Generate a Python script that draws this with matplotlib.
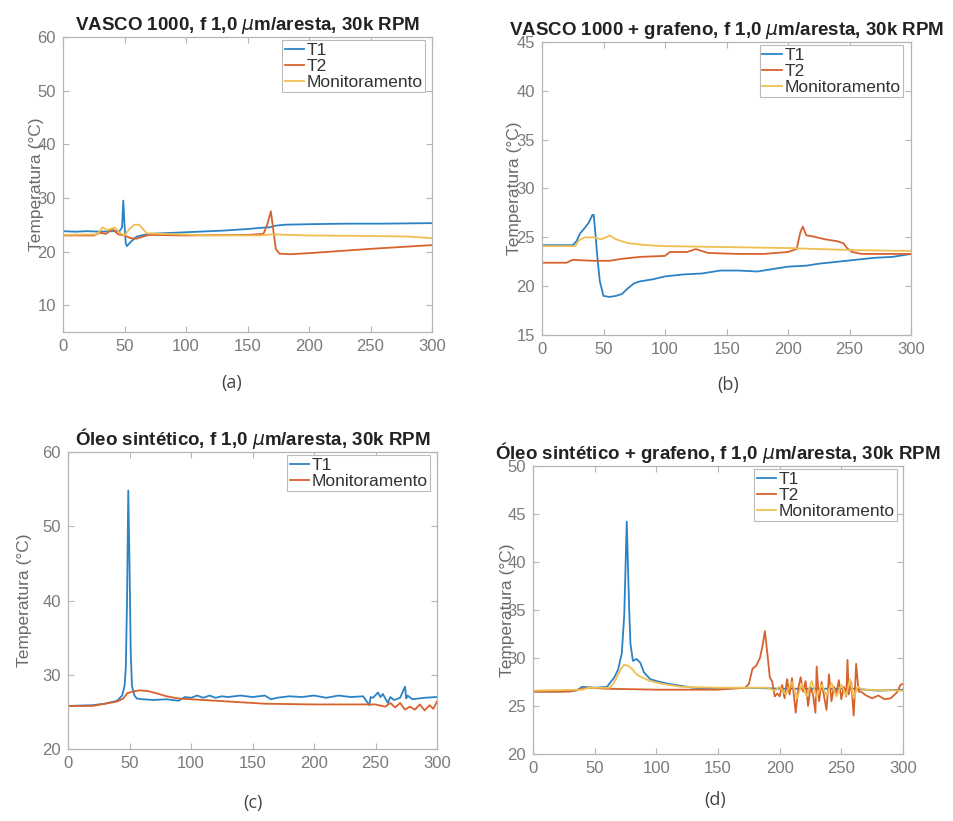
import matplotlib
matplotlib.use("Agg")
import matplotlib.pyplot as plt
import numpy as np

plt.rcParams['font.family'] = ['Liberation Sans', 'DejaVu Sans']
plt.rcParams['mathtext.fontset'] = 'dejavusans'

# colours (MATLAB default order, a bit faded like the scan)
C_T1 = '#2b83c6'
C_T2 = '#d8622e'
C_MON = '#efbf52'

# ---- panel (a): VASCO 1000 ----
a_t1 = [(0, 23.8), (10, 23.7), (20, 23.8), (30, 23.7), (40, 23.8), (46, 23.8), (48, 24.5),
        (49, 29.5), (50, 25.0), (51, 21.5), (52, 21.0), (55, 21.8), (60, 22.8), (70, 23.3),
        (100, 23.6), (130, 23.9), (150, 24.2), (165, 24.5), (168, 24.5), (172, 24.8),
        (180, 25.0), (200, 25.1), (230, 25.2), (260, 25.2), (300, 25.3)]
a_t2 = [(0, 23.0), (25, 23.0), (30, 23.5), (35, 23.3), (40, 24.2), (45, 23.2), (50, 23.0),
        (55, 22.5), (60, 22.4), (65, 22.8), (70, 23.1), (100, 23.0), (150, 23.1), (163, 23.3),
        (166, 25.0), (169, 27.5), (171, 24.0), (173, 20.5), (176, 19.6), (185, 19.5),
        (200, 19.7), (250, 20.5), (300, 21.2)]
a_mon = [(0, 23.1), (28, 23.2), (32, 24.5), (36, 24.0), (42, 24.5), (46, 23.5), (50, 23.0),
         (54, 24.2), (58, 25.0), (62, 25.0), (65, 24.2), (68, 23.4), (80, 23.3), (120, 23.0),
         (160, 23.0), (170, 23.2), (200, 23.0), (250, 22.9), (280, 22.8), (300, 22.5)]

# ---- panel (b): VASCO 1000 + grafeno ----
b_t1 = [(0, 24.2), (25, 24.2), (28, 24.6), (31, 25.4), (35, 26.0), (38, 26.5), (41, 27.3),
        (42, 27.3), (43, 26.0), (45, 23.0), (47, 20.5), (50, 19.0), (55, 18.9), (60, 19.0),
        (65, 19.2), (70, 19.8), (75, 20.3), (80, 20.5), (90, 20.7), (100, 21.0), (115, 21.2),
        (130, 21.3), (145, 21.6), (160, 21.6), (175, 21.5), (185, 21.7), (200, 22.0),
        (215, 22.1), (225, 22.3), (240, 22.5), (255, 22.7), (270, 22.9), (285, 23.0), (300, 23.3)]
b_t2 = [(0, 22.4), (20, 22.4), (25, 22.7), (40, 22.6), (55, 22.6), (65, 22.8), (80, 23.0),
        (100, 23.1), (104, 23.5), (118, 23.5), (125, 23.8), (135, 23.4), (160, 23.3),
        (180, 23.3), (200, 23.5), (207, 23.8), (210, 25.5), (212, 26.1), (215, 25.2),
        (220, 25.1), (230, 24.8), (240, 24.6), (245, 24.4), (248, 23.9), (252, 23.5),
        (260, 23.3), (300, 23.3)]
b_mon = [(0, 24.1), (27, 24.1), (30, 24.7), (35, 25.0), (42, 25.0), (48, 24.8), (52, 25.0),
         (55, 25.2), (60, 24.8), (70, 24.4), (85, 24.2), (100, 24.1), (150, 24.0), (200, 23.9),
         (250, 23.7), (300, 23.6)]

# ---- panel (c): Oleo sintetico ----
c_t1 = [(0, 25.8), (20, 25.9), (30, 26.1), (40, 26.5), (44, 27.2), (46, 28.5), (47, 31.0),
        (48, 40.0), (49, 54.8), (50, 45.0), (51, 33.0), (52, 28.5), (54, 27.2), (56, 26.8),
        (60, 26.7), (70, 26.6), (80, 26.7), (90, 26.5), (95, 27.0), (100, 26.9), (105, 27.2),
        (110, 26.9), (115, 27.2), (120, 26.9), (125, 27.1), (130, 27.0), (140, 27.2),
        (150, 27.0), (160, 27.2), (165, 26.7), (170, 26.9), (180, 27.1), (190, 27.0),
        (200, 27.2), (210, 26.9), (220, 27.2), (230, 27.0), (240, 27.1), (245, 25.9),
        (246, 27.0), (248, 26.9), (252, 27.6), (254, 27.0), (256, 27.4), (260, 26.2),
        (262, 27.0), (265, 26.6), (270, 26.9), (274, 28.4), (275, 26.8), (276, 27.2),
        (280, 26.7), (290, 26.9), (300, 27.0)]
c_mon = [(0, 25.8), (20, 25.8), (30, 26.1), (40, 26.4), (45, 26.8), (48, 27.5), (52, 27.7),
         (58, 27.9), (65, 27.8), (72, 27.5), (80, 27.1), (90, 26.8), (100, 26.7), (120, 26.5),
         (140, 26.3), (160, 26.1), (200, 26.0), (240, 26.0), (250, 26.0), (258, 25.7),
         (262, 26.2), (266, 25.6), (270, 26.2), (274, 25.3), (278, 25.7), (282, 25.3),
         (286, 26.0), (290, 25.2), (294, 25.9), (297, 25.4), (300, 26.4)]

# ---- panel (d): Oleo sintetico + grafeno ----
d_t1 = [(0, 26.5), (20, 26.5), (35, 26.6), (40, 27.0), (50, 26.9), (60, 27.0), (63, 27.5),
        (66, 28.0), (69, 28.8), (72, 30.5), (74, 34.5), (76, 44.2), (78, 35.0), (79, 31.5),
        (81, 29.7), (84, 29.9), (87, 29.5), (90, 28.5), (95, 27.8), (100, 27.6), (110, 27.3),
        (120, 27.1), (130, 26.9), (150, 26.8), (175, 26.9), (200, 26.8), (230, 26.8),
        (260, 26.8), (280, 26.6), (300, 26.7)]
d_t2 = [(0, 26.5), (30, 26.5), (40, 26.8), (45, 26.9), (60, 26.8), (100, 26.7), (150, 26.7),
        (172, 26.9), (175, 27.3), (178, 28.9), (181, 29.2), (184, 30.0), (186, 31.2),
        (188, 32.8), (190, 30.5), (192, 28.0), (194, 27.5), (196, 26.0), (198, 26.3),
        (200, 26.0), (202, 27.2), (204, 25.8), (206, 27.8), (208, 26.2), (210, 27.9),
        (212, 25.5), (213, 24.3), (215, 26.8), (217, 28.0), (219, 26.5), (221, 27.6),
        (223, 25.0), (225, 27.0), (227, 26.2), (229, 24.3), (230, 29.1), (232, 25.5),
        (234, 27.5), (236, 26.0), (238, 24.6), (240, 28.3), (242, 25.5), (244, 27.0),
        (246, 26.3), (248, 27.7), (250, 25.7), (252, 27.0), (254, 26.0), (255, 29.8),
        (256, 26.2), (258, 27.5), (260, 24.0), (261, 26.5), (262, 29.4), (264, 26.5),
        (266, 26.5), (270, 26.1), (275, 25.8), (280, 26.1), (285, 25.7), (290, 25.8),
        (295, 26.4), (298, 27.2), (300, 27.3)]
d_mon = [(0, 26.6), (40, 26.7), (45, 26.9), (62, 26.9), (65, 27.3), (68, 28.0), (71, 28.8),
         (74, 29.3), (77, 29.2), (80, 28.9), (84, 28.3), (88, 28.0), (95, 27.6), (105, 27.3),
         (120, 27.0), (150, 26.9), (190, 26.9), (196, 26.6), (200, 27.0), (205, 26.2),
         (210, 27.5), (214, 25.8), (218, 27.3), (222, 26.0), (226, 27.6), (230, 25.9),
         (234, 27.2), (238, 26.1), (242, 27.4), (246, 26.0), (250, 27.2), (254, 26.1),
         (257, 27.8), (260, 25.8), (263, 27.0), (268, 26.7), (300, 26.6)]

W, H = 954, 821
fig = plt.figure(figsize=(W / 100, H / 100), dpi=100)


def px_axes(left, top, right, bottom):
    return fig.add_axes([left / W, 1 - bottom / H, (right - left) / W, (bottom - top) / H])


def style(ax, ylim, yticks, title, ylab_x):
    ax.set_xlim(0, 300)
    ax.set_ylim(*ylim)
    ax.set_xticks(np.arange(0, 301, 50))
    ax.set_yticks(yticks)
    ax.tick_params(direction='in', length=4, width=0.8, top=True, right=True,
                   colors='#b5b5b5', labelcolor='#7a7a7a', labelsize=12, pad=5)
    for s in ax.spines.values():
        s.set_color('#b5b5b5')
        s.set_linewidth(0.9)
    ax.set_title(title, fontsize=13.5, fontweight='bold', color='#222222', pad=5)
    ax.set_ylabel('Temperatura (°C)', fontsize=12.5, color='#6a6a6a')
    ax.yaxis.set_label_coords(ylab_x, 0.5)


def draw(ax, series, loc_x):
    for data, col, lab in series:
        xy = np.array(data)
        ax.plot(xy[:, 0], xy[:, 1], color=col, lw=1.3, label=lab)
    leg = ax.legend(loc='upper right', bbox_to_anchor=(loc_x, 0.99), borderaxespad=0,
                    fontsize=12.5, handlelength=1.1, handletextpad=0.15, labelspacing=0.05,
                    borderpad=0.15, frameon=True, fancybox=False, framealpha=1)
    leg.get_frame().set_edgecolor('#bbbbbb')
    leg.get_frame().set_linewidth(0.8)
    for t in leg.get_texts():
        t.set_color('#333333')


ax_a = px_axes(63, 37, 432, 332)
draw(ax_a, [(a_t1, C_T1, 'T1'), (a_t2, C_T2, 'T2'), (a_mon, C_MON, 'Monitoramento')], 0.981)
style(ax_a, (5, 60), [10, 20, 30, 40, 50, 60], r'VASCO 1000, f 1,0 $\mu$m/aresta, 30k RPM', -0.051)

ax_b = px_axes(542, 42, 911, 335)
draw(ax_b, [(b_t1, C_T1, 'T1'), (b_t2, C_T2, 'T2'), (b_mon, C_MON, 'Monitoramento')], 0.978)
style(ax_b, (15, 45), [15, 20, 25, 30, 35, 40, 45],
      r'VASCO 1000 + grafeno, f 1,0 $\mu$m/aresta, 30k RPM', -0.054)

ax_c = px_axes(68, 452, 437, 749)
draw(ax_c, [(c_t1, C_T1, 'T1'), (c_mon, C_T2, 'Monitoramento')], 0.981)
style(ax_c, (20, 60), [20, 30, 40, 50, 60], r'Óleo sintético, f 1,0 $\mu$m/aresta, 30k RPM', -0.098)

ax_d = px_axes(533, 466, 903, 754)
draw(ax_d, [(d_t1, C_T1, 'T1'), (d_t2, C_T2, 'T2'), (d_mon, C_MON, 'Monitoramento')], 0.984)
style(ax_d, (20, 50), [20, 25, 30, 35, 40, 45, 50],
      r'Óleo sintético + grafeno, f 1,0 $\mu$m/aresta, 30k RPM', -0.049)

# sub-figure letters
for lab, x, y in [('(a)', 232, 383), ('(b)', 728, 385), ('(c)', 253, 803), ('(d)', 715, 800)]:
    fig.text(x / W, 1 - y / H, lab, ha='center', va='center', fontsize=13,
             family=['Open Sans', 'DejaVu Sans'], color='#444444')

fig.savefig('out.png', dpi=100, facecolor='white')
